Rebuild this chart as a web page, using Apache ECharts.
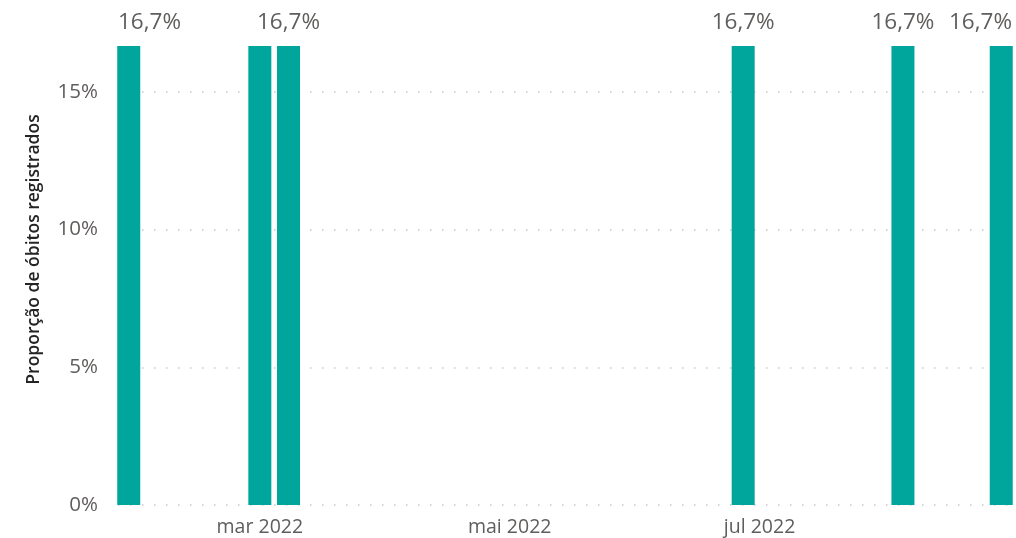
<!DOCTYPE html>
<html>
<head>
<meta charset="utf-8">
<script src="https://cdn.jsdelivr.net/npm/echarts@6/dist/echarts.min.js"></script>
<style>
  html, body { margin: 0; padding: 0; background: #fff; }
  #chart { width: 1016px; height: 538px; }
</style>
</head>
<body>
<div id="chart"></div>
<script>
// dados
var datas = ['2022-01-28', '2022-03-01', '2022-03-08', '2022-06-27', '2022-08-05', '2022-08-29'];
var proporcao = [16.67, 16.67, 16.67, 16.67, 16.67, 16.67];
var rotulosX = ['2022-03-01', '2022-05-01', '2022-07-01'];
var meses = ['jan', 'fev', 'mar', 'abr', 'mai', 'jun', 'jul', 'ago', 'set', 'out', 'nov', 'dez'];
var fonte = '"Segoe UI", "Open Sans", "Noto Sans", sans-serif';

function ts(s) {
    var p = s.split('-');
    return new Date(+p[0], +p[1] - 1, +p[2]).getTime();
}

// barras muito proximas: so o rotulo da segunda aparece (como no Power BI)
var dia = 86400000;
var serie = [];
for (let i = 0; i < datas.length; i++) {
    var t = ts(datas[i]);
    var prox = i + 1 < datas.length ? ts(datas[i + 1]) : null;
    var esconde = prox !== null && (prox - t) < 14 * dia;
    serie.push({ value: [t, proporcao[i]], label: { show: !esconde } });
}

var gridEsq = 118, gridDir = 4;

var chartDom = document.getElementById('chart');
var myChart = echarts.init(chartDom);
var option;
option = {
    animation: false,
    grid: { left: gridEsq, right: gridDir, top: 46, bottom: 33 },
    xAxis: {
        // eixo numerico com datas em ms (rotulos nos inicios de mes)
        type: 'value',
        min: new Date(2022, 0, 25, 9).getTime(),
        max: new Date(2022, 7, 31, 15).getTime(),
        axisLine: { show: false },
        axisTick: { show: false },
        splitLine: { show: false },
        axisLabel: {
            customValues: rotulosX.map(ts),
            margin: 12,
            color: '#605E5C',
            fontSize: 19.5,
            fontFamily: fonte,
            formatter: function (v) {
                var d = new Date(v);
                return meses[d.getMonth()] + ' ' + d.getFullYear();
            }
        }
    },
    yAxis: {
        type: 'value',
        min: 0,
        max: 16.67,
        interval: 5,
        name: 'Proporção de óbitos registrados',
        nameLocation: 'middle',
        nameGap: 75,
        nameTextStyle: {
            color: '#252423',
            fontSize: 17.5,
            fontWeight: 600,
            fontFamily: fonte,
            padding: [0, 0, 0, 52]
        },
        axisLine: { show: false },
        axisTick: { show: false },
        splitLine: {
            showMaxLine: false,
            lineStyle: { color: '#C8C8C8', width: 1.5, type: [1.5, 10.5] }
        },
        axisLabel: {
            showMaxLabel: false,
            margin: 20,
            color: '#605E5C',
            fontSize: 20.5,
            fontFamily: fonte,
            formatter: '{value}%'
        }
    },
    series: [
        {
            type: 'bar',
            data: serie,
            barWidth: 23,
            itemStyle: { color: '#00A59B' },
            label: {
                show: true,
                position: 'top',
                distance: 12,
                color: '#605E5C',
                fontSize: 22.5,
                fontFamily: fonte,
                formatter: function (p) {
                    return p.value[1].toFixed(1).replace('.', ',') + '%';
                }
            },
            labelLayout: function (params) {
                // mantem o rotulo dentro da area de plotagem
                var r = params.labelRect;
                var esq = gridEsq;
                var dir = myChart.getWidth() - gridDir;
                var cy = r.y + r.height / 2;
                if (r.x < esq) {
                    return { x: esq, y: cy, align: 'left', verticalAlign: 'middle' };
                }
                if (r.x + r.width > dir) {
                    return { x: dir, y: cy, align: 'right', verticalAlign: 'middle' };
                }
                return {};
            }
        }
    ]
};
option && myChart.setOption(option);
</script>
</body>
</html>
